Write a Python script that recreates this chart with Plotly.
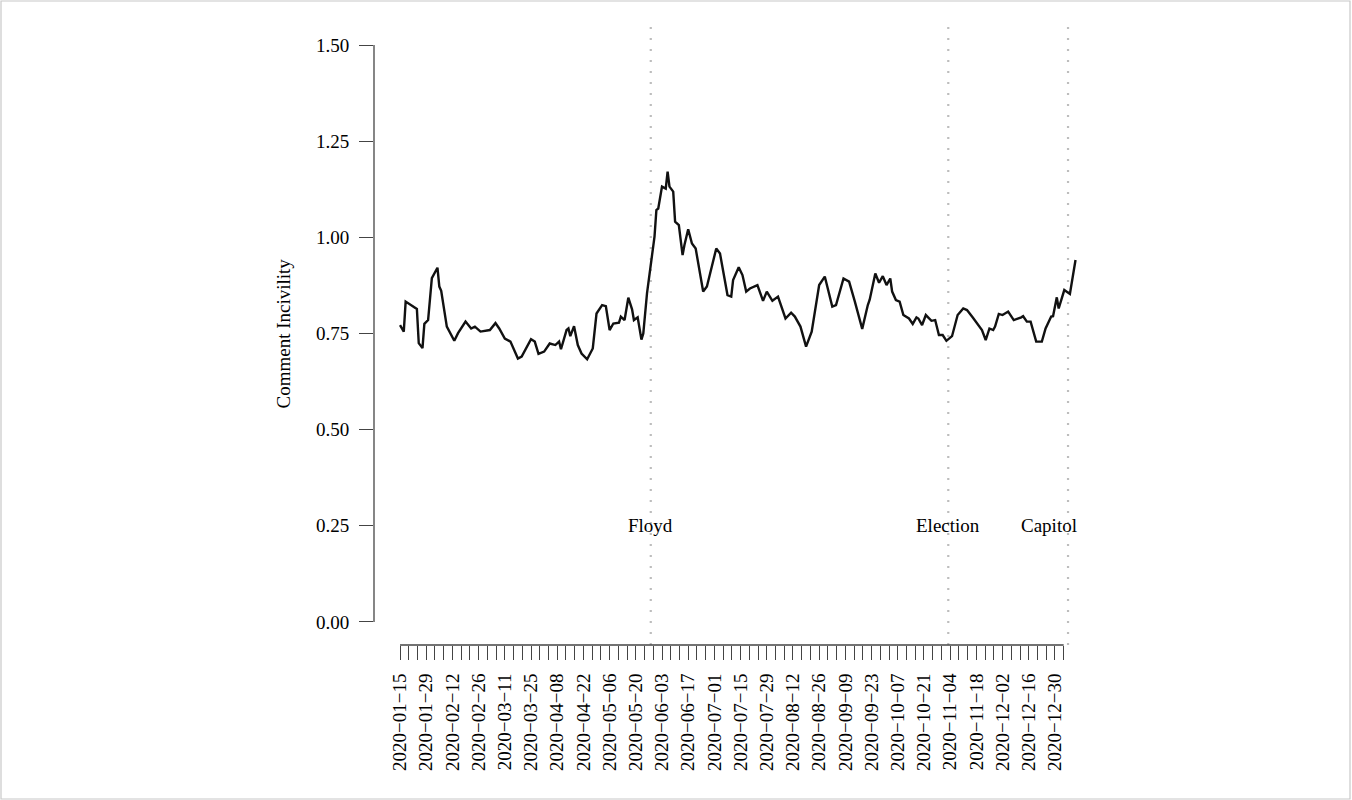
import plotly.graph_objects as go
import pandas as pd

# ---------------- data ----------------
dates = [
    "2020-01-15", "2020-01-17", "2020-01-18", "2020-01-24", "2020-01-25", "2020-01-27",
    "2020-01-28", "2020-01-30", "2020-02-01", "2020-02-04", "2020-02-05", "2020-02-06",
    "2020-02-09", "2020-02-13", "2020-02-15", "2020-02-19", "2020-02-22", "2020-02-24",
    "2020-02-27", "2020-03-03", "2020-03-06", "2020-03-08", "2020-03-11", "2020-03-14",
    "2020-03-18", "2020-03-20", "2020-03-25", "2020-03-27", "2020-03-29", "2020-04-01",
    "2020-04-04", "2020-04-07", "2020-04-09", "2020-04-10", "2020-04-13", "2020-04-14",
    "2020-04-15", "2020-04-17", "2020-04-19", "2020-04-21", "2020-04-24", "2020-04-27",
    "2020-04-29", "2020-05-02", "2020-05-04", "2020-05-06", "2020-05-08", "2020-05-11",
    "2020-05-12", "2020-05-14", "2020-05-16", "2020-05-18", "2020-05-19", "2020-05-21",
    "2020-05-23", "2020-05-24", "2020-05-26", "2020-05-28", "2020-05-30", "2020-05-31",
    "2020-06-01", "2020-06-03", "2020-06-05", "2020-06-06", "2020-06-07", "2020-06-09",
    "2020-06-10", "2020-06-12", "2020-06-14", "2020-06-15", "2020-06-17", "2020-06-19",
    "2020-06-21", "2020-06-25", "2020-06-27", "2020-07-02", "2020-07-04", "2020-07-08",
    "2020-07-10", "2020-07-11", "2020-07-14", "2020-07-16", "2020-07-18", "2020-07-20",
    "2020-07-24", "2020-07-27", "2020-07-29", "2020-08-01", "2020-08-04", "2020-08-08",
    "2020-08-11", "2020-08-13", "2020-08-16", "2020-08-19", "2020-08-22", "2020-08-26",
    "2020-08-29", "2020-09-02", "2020-09-04", "2020-09-08", "2020-09-11", "2020-09-14",
    "2020-09-18", "2020-09-21", "2020-09-22", "2020-09-25", "2020-09-27", "2020-09-29",
    "2020-10-01", "2020-10-03", "2020-10-04", "2020-10-06", "2020-10-08", "2020-10-10",
    "2020-10-13", "2020-10-15", "2020-10-17", "2020-10-18", "2020-10-20", "2020-10-22",
    "2020-10-25", "2020-10-27", "2020-10-29", "2020-10-31", "2020-11-02", "2020-11-05",
    "2020-11-08", "2020-11-11", "2020-11-13", "2020-11-16", "2020-11-19", "2020-11-21",
    "2020-11-23", "2020-11-25", "2020-11-27", "2020-11-28", "2020-11-30", "2020-12-02",
    "2020-12-05", "2020-12-08", "2020-12-12", "2020-12-13", "2020-12-15", "2020-12-17",
    "2020-12-20", "2020-12-23", "2020-12-25", "2020-12-28", "2020-12-29", "2020-12-31",
    "2021-01-01", "2021-01-04", "2021-01-07", "2021-01-10",
]
incivility = [
    0.772, 0.755, 0.833, 0.814, 0.725, 0.712,
    0.775, 0.785, 0.894, 0.921, 0.872, 0.861,
    0.768, 0.731, 0.751, 0.781, 0.763, 0.768,
    0.755, 0.759, 0.777, 0.763, 0.737, 0.729,
    0.685, 0.690, 0.735, 0.729, 0.697, 0.703,
    0.724, 0.720, 0.729, 0.709, 0.759, 0.763,
    0.743, 0.769, 0.720, 0.698, 0.683, 0.711,
    0.802, 0.824, 0.821, 0.759, 0.776, 0.778,
    0.794, 0.785, 0.843, 0.813, 0.785, 0.792,
    0.734, 0.750, 0.855, 0.932, 1.002, 1.071,
    1.075, 1.132, 1.127, 1.171, 1.132, 1.119,
    1.041, 1.032, 0.954, 0.980, 1.021, 0.984,
    0.971, 0.859, 0.872, 0.971, 0.958, 0.850,
    0.846, 0.889, 0.922, 0.902, 0.859, 0.867,
    0.876, 0.835, 0.859, 0.835, 0.846, 0.789,
    0.804, 0.794, 0.768, 0.716, 0.755, 0.876,
    0.898, 0.820, 0.824, 0.893, 0.885, 0.834,
    0.762, 0.824, 0.838, 0.906, 0.882, 0.899,
    0.876, 0.893, 0.859, 0.837, 0.833, 0.798,
    0.789, 0.775, 0.792, 0.789, 0.772, 0.798,
    0.783, 0.785, 0.746, 0.746, 0.731, 0.743,
    0.798, 0.815, 0.811, 0.792, 0.772, 0.759,
    0.733, 0.763, 0.759, 0.768, 0.801, 0.798,
    0.807, 0.785, 0.792, 0.795, 0.781, 0.781,
    0.729, 0.729, 0.763, 0.794, 0.795, 0.844,
    0.815, 0.863, 0.853, 0.941,
]

event_names = ["Floyd", "Election", "Capitol"]
event_dates = ["2020-05-28", "2020-11-03", "2021-01-06"]
label_shift_days = [0, 0, -10]
label_level = 0.25

y_ticks = [0.00, 0.25, 0.50, 0.75, 1.00, 1.25, 1.50]
x_label_first = "2020-01-15"
x_label_last = "2020-12-30"
x_label_step_days = 14
x_minor_step_days = 14 / 3
x_axis_last = "2021-01-06"

FONT = "Liberation Serif"
W, H = 1352, 800
M = dict(l=374, r=246, t=22, b=155)

major_ticks = pd.date_range(x_label_first, x_label_last, freq=pd.Timedelta(days=x_label_step_days))
minor_ticks = pd.date_range(x_label_first, x_axis_last, freq=pd.Timedelta(days=x_minor_step_days))

fig = go.Figure()
fig.add_trace(go.Scatter(
    x=pd.to_datetime(dates), y=incivility, mode="lines",
    line=dict(color="#111111", width=2.4), showlegend=False, hoverinfo="skip",
))

shapes = []
for d in event_dates:
    shapes.append(dict(type="line", xref="x", yref="paper", x0=d, x1=d, y0=0, y1=1,
                       line=dict(color="#bdbdbd", width=2.2, dash="2px,9px"), layer="below"))
# axis lines spanning only the ticks (R style)
shapes.append(dict(type="line", xref="paper", yref="y", x0=0, x1=0,
                   y0=y_ticks[0], y1=y_ticks[-1], line=dict(color="#444", width=1.3)))
shapes.append(dict(type="line", xref="x", yref="paper", x0=minor_ticks[0], x1=minor_ticks[-1],
                   y0=0, y1=0, line=dict(color="#444", width=1.3)))
# thin frame around the whole picture
pw = W - M["l"] - M["r"]
ph = H - M["t"] - M["b"]
shapes.append(dict(type="rect", xref="paper", yref="paper",
                   x0=(-M["l"] + 1) / pw, x1=(W - M["l"] - 2) / pw,
                   y0=(-M["b"] + 1) / ph, y1=(H - M["b"] - 1) / ph,
                   line=dict(color="#c8c8c8", width=1.2)))

annotations = []
for name, d, s in zip(event_names, event_dates, label_shift_days):
    annotations.append(dict(x=pd.Timestamp(d) + pd.Timedelta(days=s), y=label_level,
                            xref="x", yref="y", text=name, showarrow=False,
                            font=dict(family=FONT, size=19, color="black"),
                            xanchor="center", yanchor="middle"))
annotations.append(dict(x=0, y=0.5, xref="paper", yref="paper", text="Comment Incivility",
                        textangle=-90, showarrow=False, xshift=-91,
                        font=dict(family=FONT, size=19, color="black"),
                        xanchor="center", yanchor="middle"))

fig.update_layout(
    width=W, height=H,
    margin=M,
    paper_bgcolor="white", plot_bgcolor="white",
    shapes=shapes, annotations=annotations,
    xaxis=dict(
        range=["2020-01-01 02:00", "2021-01-26 07:00"],
        tickmode="array", tickvals=major_ticks,
        ticktext=[t.strftime("%Y\u2212%m\u2212%d") for t in major_ticks],
        tickangle=-90, ticks="outside", ticklen=14, tickwidth=1.2, tickcolor="#444",
        ticklabelstandoff=6,
        minor=dict(tickmode="array", tickvals=minor_ticks, ticks="outside", ticklen=14,
                   tickwidth=1.2, tickcolor="#444", showgrid=False),
        showgrid=False, zeroline=False, showline=False,
        tickfont=dict(family=FONT, size=19, color="black"),
    ),
    yaxis=dict(
        range=[-0.06, 1.56],
        tickmode="array", tickvals=y_ticks, ticktext=[f"{v:.2f}" for v in y_ticks],
        ticks="outside", ticklen=14, tickwidth=1.2, tickcolor="#444",
        ticklabelstandoff=6,
        showgrid=False, zeroline=False, showline=False,
        tickfont=dict(family=FONT, size=19, color="black"),
    ),
)

fig.write_html("out.html")
